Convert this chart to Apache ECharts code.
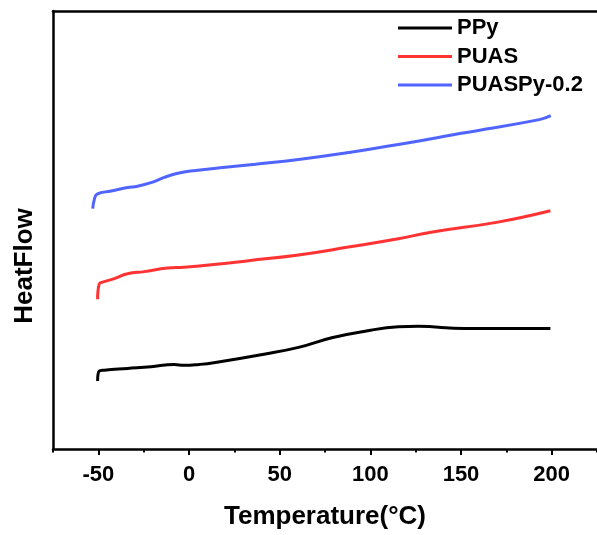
<!DOCTYPE html>
<html>
<head>
<meta charset="utf-8">
<script src="https://cdn.jsdelivr.net/npm/echarts@6/dist/echarts.min.js"></script>
<style>
html,body{margin:0;padding:0;background:#fff;}
#chart{width:597px;height:535px;}
</style>
</head>
<body>
<div id="chart"></div>
<script>
// Data (temperature in °C, heat flow in arbitrary units)
var seriesNames = ['PPy', 'PUAS', 'PUASPy-0.2'];
var pPyT = [-50.4, -49.5, -46.7, -33.9, -21.0, -8.2, -2.7, 5.5, 13.7, 42.1, 60.4, 78.7, 97.1, 115.4, 126.4, 152.0, 170.3, 199.3];
var pPyV = [15.5, 17.8, 18.0, 18.4, 18.8, 19.3, 19.1, 19.3, 19.7, 21.7, 23.2, 25.4, 26.9, 27.9, 28.0, 27.5, 27.5, 27.5];
var puasT = [-50.4, -49.5, -46.7, -41.2, -33.9, -24.7, -11.9, -2.7, 13.7, 32.9, 60.4, 87.9, 115.4, 133.5, 170.3, 199.3];
var puasV = [34.2, 37.7, 38.2, 38.9, 40.0, 40.5, 41.3, 41.5, 42.1, 43.0, 44.3, 46.1, 48.0, 49.5, 51.8, 54.4];
var puaspyT = [-53.1, -52.2, -50.7, -43.0, -33.9, -28.4, -21.0, -13.7, -5.5, 3.7, 20.0, 36.6, 60.4, 87.9, 115.4, 152.0, 193.2, 199.5];
var puaspyV = [54.9, 57.0, 58.2, 58.9, 59.7, 60.0, 60.8, 62.0, 63.0, 63.6, 64.3, 65.0, 66.1, 67.7, 69.5, 72.2, 75.2, 76.1];
var majorTicks = [-50, 0, 50, 100, 150, 200];
var minorTicks = [-75, -25, 25, 75, 125, 175, 225];
var colors = ['#000000', '#ff3333', '#5064ff'];

function pairs(t, v) { return t.map(function (x, i) { return [x, v[i]]; }); }

var FONT = "'Liberation Sans', Arial, Helvetica, sans-serif";
var chart = echarts.init(document.getElementById('chart'), null, { renderer: 'canvas' });
function lineSeries(i, t, v) {
  return {
    name: seriesNames[i], type: 'line', xAxisIndex: 0, yAxisIndex: 0,
    data: pairs(t, v), showSymbol: false, symbol: 'none', smooth: 0.45,
    lineStyle: { width: 3, color: colors[i] }
  };
}
var option = {
  backgroundColor: '#fff',
  animation: false,
  color: colors,
  grid: { left: 53, top: 11, width: 546.5, bottom: 84, containLabel: false },
  legend: {
    left: 398, top: 17, orient: 'vertical', padding: 0,
    itemWidth: 54, itemHeight: 20, itemGap: 6.5,
    data: seriesNames.map(function (n, i) {
      return { name: n, icon: 'path://M0,0 L54,0 L54,3 L0,3 Z', itemStyle: { color: colors[i] } };
    }),
    textStyle: { fontFamily: FONT, fontWeight: 'bold', fontSize: 22, color: '#000', lineHeight: 20 }
  },
  xAxis: [
    {
      type: 'value', position: 'bottom', min: -75, max: 225,
      name: 'Temperature(\u00B0C)', nameLocation: 'middle', nameGap: 55,
      nameTextStyle: { fontFamily: FONT, fontWeight: 'bold', fontSize: 26, color: '#000' },
      axisLine: { show: true, onZero: false, lineStyle: { color: '#000', width: 2.5 } },
      axisTick: { show: true, inside: false, length: 6, customValues: majorTicks, lineStyle: { color: '#000', width: 2 } },
      axisLabel: { show: true, customValues: majorTicks, margin: 15, fontFamily: FONT, fontWeight: 'bold', fontSize: 22, color: '#000' },
      splitLine: { show: false }
    },
    {
      type: 'value', position: 'bottom', min: -75, max: 225,
      axisLine: { show: false, onZero: false },
      axisTick: { show: true, inside: false, length: 3.5, customValues: minorTicks, lineStyle: { color: '#000', width: 2 } },
      axisLabel: { show: false },
      splitLine: { show: false }
    },
    {
      type: 'value', position: 'top', min: -75, max: 225,
      axisLine: { show: true, onZero: false, lineStyle: { color: '#000', width: 2.5 } },
      axisTick: { show: false }, axisLabel: { show: false }, splitLine: { show: false }
    }
  ],
  yAxis: [
    {
      type: 'value', position: 'left', min: 0, max: 100,
      name: 'HeatFlow', nameLocation: 'middle', nameGap: 15, nameRotate: 90,
      nameTextStyle: { fontFamily: FONT, fontWeight: 'bold', fontSize: 26, color: '#000', padding: [0, 72, 0, 0] },
      axisLine: { show: true, onZero: false, lineStyle: { color: '#000', width: 2.5 } },
      axisTick: { show: false }, axisLabel: { show: false }, splitLine: { show: false }
    },
    {
      type: 'value', position: 'right', min: 0, max: 100,
      axisLine: { show: false, onZero: false },
      axisTick: { show: false }, axisLabel: { show: false }, splitLine: { show: false }
    }
  ],
  series: [
    lineSeries(0, pPyT, pPyV),
    lineSeries(1, puasT, puasV),
    lineSeries(2, puaspyT, puaspyV)
  ]
};
chart.setOption(option);
</script>
</body>
</html>
